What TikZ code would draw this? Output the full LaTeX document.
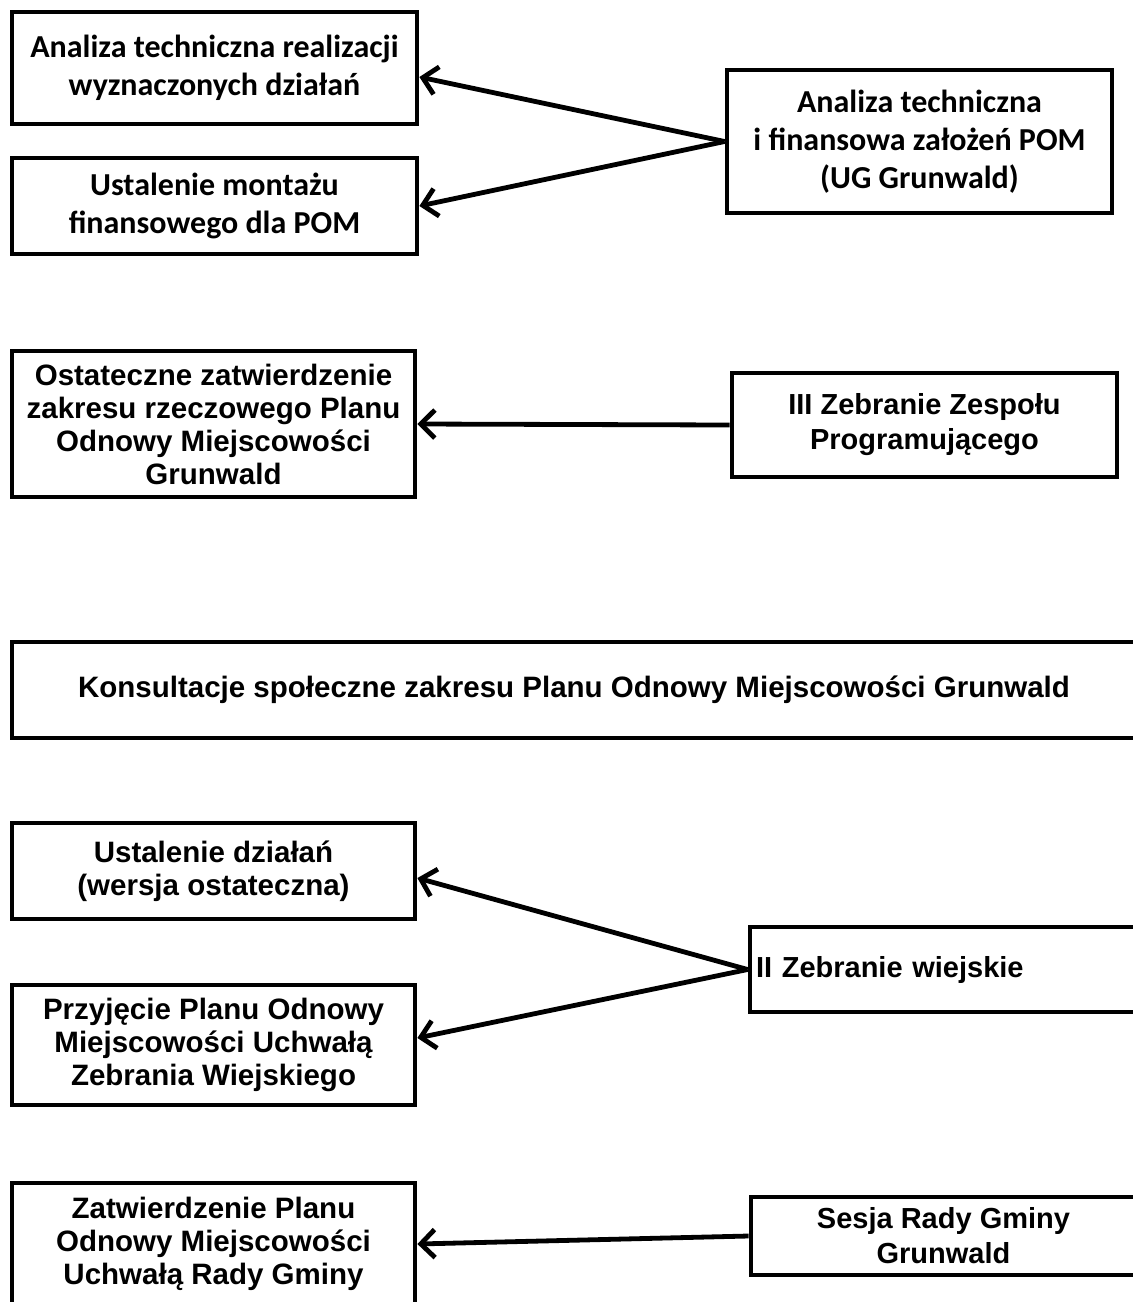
\documentclass[tikz,border=0pt]{standalone}
\usepackage{fontspec}
\setmainfont{Liberation Sans}
\newfontfamily\calibrifont{Carlito}
\usetikzlibrary{arrows.meta}

\begin{document}
\begin{tikzpicture}[x=1pt, y=-1pt]
        \tikzset{
            box/.style={draw, line width=4.8pt, align=center, inner sep=0pt, font=\bfseries\fontsize{29.5}{33}\selectfont},
            calbox/.style={box, font=\calibrifont\bfseries\fontsize{32}{38}\selectfont},
            rbox/.style={box, font=\bfseries\fontsize{29}{35}\selectfont},
            arr/.style={line width=4.8pt, -{Straight Barb[length=14pt, width=28pt]}}
        }
        \useasboundingbox (0,0) rectangle (1133,1302);
        \clip (0,0) rectangle (1133,1302);

        % Block 1 - analiza UG
        \node[calbox, minimum width=405pt, minimum height=112pt] (an1) at (214.5,68) {Analiza techniczna realizacji\\wyznaczonych działań};
        \node[calbox, minimum width=405pt, minimum height=96pt] (an2) at (214.5,206) {Ustalenie montażu\\finansowego dla POM};
        \node[calbox, minimum width=385pt, minimum height=143pt] (an0) at (919.5,141.5) {Analiza techniczna\\i finansowa założeń POM\\(UG Grunwald)};
        \draw[arr] (an0.west) -- ([yshift=-9pt]an1.east);
        \draw[arr] (an0.west) -- (an2.east);

        % Block 2 - zespol programujacy
        \node[box, minimum width=403pt, minimum height=146pt] (zp1) at (213.5,424) {Ostateczne zatwierdzenie\\zakresu rzeczowego Planu\\Odnowy Miejscowości\\Grunwald};
        \node[rbox, minimum width=385pt, minimum height=104pt] (zp0) at (924.5,425) {III Zebranie Zespołu\\Programującego};
        \draw[arr] (zp0.west) -- (zp1.east);

        % Block 3 - konsultacje
        \node[box, minimum width=1124pt, minimum height=96pt] (kons) at (574,690) {Konsultacje społeczne zakresu Planu Odnowy Miejscowości Grunwald};

        % Block 4 - zebranie wiejskie
        \node[box, minimum width=403pt, minimum height=96pt] (zw1) at (213.5,871) {Ustalenie działań\\(wersja ostateczna)};
        \node[box, minimum width=403pt, minimum height=120pt] (zw2) at (213.5,1045) {Przyjęcie Planu Odnowy\\Miejscowości Uchwałą\\Zebrania Wiejskiego};
        \node[rbox, minimum width=385pt, minimum height=85pt, text width=373pt, align=left, inner xsep=6pt] (zw0) at (942.5,969.5) {II Zebranie wiejskie};
        \draw[arr] (zw0.west) -- ([yshift=-7pt]zw1.east);
        \draw[arr] (zw0.west) -- ([yshift=7pt]zw2.east);

        % Block 5 - rada gminy
        \node[box, minimum width=403pt, minimum height=122pt] (rg1) at (213.5,1244) {Zatwierdzenie Planu\\Odnowy Miejscowości\\Uchwałą Rady Gminy};
        \node[rbox, minimum width=385pt, minimum height=78pt] (rg0) at (943.5,1236) {Sesja Rady Gminy\\Grunwald};
        \draw[arr] (rg0.west) -- (rg1.east);
\end{tikzpicture}
\end{document}
